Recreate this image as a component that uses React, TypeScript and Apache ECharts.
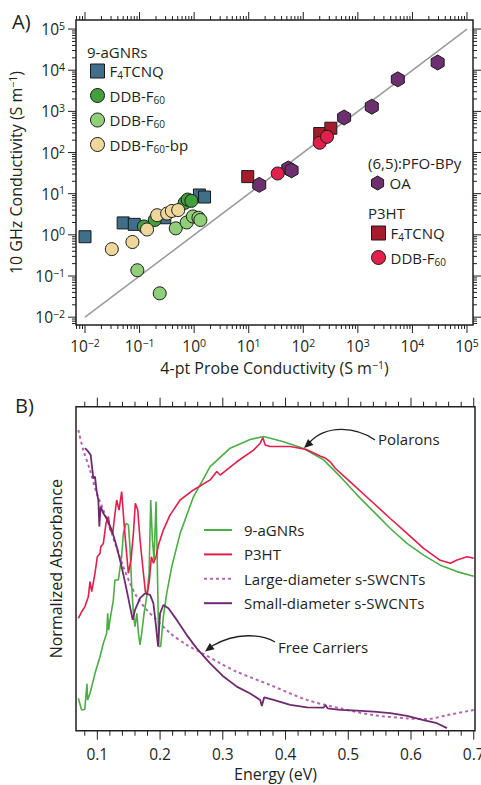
import React, { useEffect, useRef } from 'react';
import * as echarts from 'echarts';

// ---------- Panel A : 10 GHz vs 4-pt probe conductivity (S m^-1) ----------
const gnrF4tcnqProbe = [0.01, 0.05, 0.08, 0.29, 1.25, 1.55];
const gnrF4tcnqGHz = [0.9, 1.95, 1.8, 2.6, 9.3, 8.3];
const gnrDdbProbe = [0.12, 0.19, 0.67, 0.76, 0.89];
const gnrDdbGHz = [1.6, 2.3, 6.0, 7.2, 6.7];
const gnrDdb2Probe = [0.091, 0.234, 0.46, 0.73, 0.95, 1.2, 1.3];
const gnrDdb2GHz = [0.138, 0.038, 1.44, 2.0, 2.8, 2.6, 2.3];
const gnrBpProbe = [0.031, 0.074, 0.137, 0.21, 0.32, 0.39, 0.51];
const gnrBpGHz = [0.45, 0.67, 1.35, 3.0, 3.3, 3.8, 4.0];
const oaProbe = [15.6, 53, 61, 560, 1800, 5400, 29000];
const oaGHz = [16.4, 41, 37, 710, 1300, 6000, 15400];
const p3htF4Probe = [9.6, 200, 320];
const p3htF4GHz = [26, 290, 390];
const p3htDdbProbe = [34, 200, 272];
const p3htDdbGHz = [31, 173, 241];
const parityLine = [0.01, 100000];
const decadeExponents = [-2, -1, 0, 1, 2, 3, 4, 5];

// ---------- Panel B : normalized absorbance vs energy (eV) ----------
const energyTicks = [0.1, 0.2, 0.3, 0.4, 0.5, 0.6, 0.7];
const gnrE = [0.0697, 0.075, 0.080, 0.0835, 0.0845, 0.0883, 0.0963, 0.1043, 0.1096, 0.1149, 0.1165, 0.118, 0.1202, 0.1255, 0.128, 0.1335, 0.1388, 0.1415, 0.1457, 0.1495, 0.152, 0.1548, 0.1575, 0.160, 0.163, 0.1655, 0.168, 0.1708, 0.1745, 0.1787, 0.1825, 0.1851, 0.1878, 0.1904, 0.1936, 0.1957, 0.1979, 0.201, 0.2053, 0.2106, 0.2186, 0.232, 0.2532, 0.2798, 0.3117, 0.3436, 0.365, 0.3969, 0.4288, 0.4607, 0.4873, 0.5139, 0.5404, 0.567, 0.5936, 0.62, 0.6467, 0.6733, 0.70];
const gnrV = [10.0, 6.4, 6.6, 14.5, 9.5, 11.5, 17.7, 22.9, 27, 30.1, 36.2, 31, 34.2, 40.3, 46.5, 46.5, 53.7, 60.9, 64, 63.5, 56.8, 44.5, 36.2, 32.1, 36.2, 30.1, 26.5, 30.1, 36.2, 41.4, 48.6, 71.2, 58.9, 52.7, 70.7, 50.6, 26, 26, 35.2, 42.4, 50.6, 60.9, 72.2, 81.5, 87.2, 89.9, 90.8, 89.2, 87.1, 83.6, 78.4, 72.8, 67.6, 62.4, 57.8, 54.2, 51.1, 49.1, 47.7];
const p3htE = [0.0697, 0.075, 0.0803, 0.0857, 0.0883, 0.091, 0.0963, 0.1, 0.1043, 0.1055, 0.1096, 0.1138, 0.1176, 0.1202, 0.1245, 0.1282, 0.1309, 0.1346, 0.1388, 0.1426, 0.1457, 0.1495, 0.1537, 0.1575, 0.1606, 0.1644, 0.1681, 0.1724, 0.1766, 0.1798, 0.183, 0.1862, 0.1894, 0.1936, 0.1974, 0.2053, 0.216, 0.232, 0.2532, 0.2798, 0.2904, 0.2957, 0.3223, 0.349, 0.3596, 0.3638, 0.3676, 0.3756, 0.4074, 0.433, 0.455, 0.463, 0.4712, 0.4792, 0.5031, 0.5404, 0.567, 0.5936, 0.62, 0.6467, 0.6627, 0.6733, 0.6893, 0.70];
const p3htV = [34.7, 36.7, 38.3, 41.4, 46, 42.9, 48.6, 53.7, 54.7, 56.8, 57.8, 64, 66.1, 62, 60.9, 67.1, 71.2, 68.1, 73.8, 64, 56.8, 48.6, 52.7, 60.9, 70.2, 68.1, 58.9, 50.6, 42.9, 42.4, 46.5, 53.7, 51.7, 53.7, 57.3, 62, 66.6, 71.2, 74.3, 77.4, 80, 78.9, 83, 86.6, 88.7, 90.5, 88.2, 87.7, 87.7, 86.8, 84.8, 84.2, 83.0, 81.0, 76.8, 70.2, 65.5, 60.9, 56.3, 52.6, 51.7, 52.7, 53.7, 53.2];
const largeE = [0.0697, 0.0777, 0.0883, 0.099, 0.1096, 0.1202, 0.1309, 0.1415, 0.1521, 0.1628, 0.1787, 0.1947, 0.216, 0.2426, 0.2692, 0.2958, 0.3223, 0.3755, 0.4341, 0.4873, 0.5404, 0.5936, 0.6255, 0.6573, 0.70];
const largeV = [92.8, 86.6, 80.5, 73.3, 68.1, 62.5, 56.3, 50.6, 45.5, 41.4, 37.3, 34.2, 30.1, 26.5, 23.7, 20.8, 18.2, 14.1, 9.5, 6.9, 4.8, 3.8, 3.6, 4.8, 6.4];
const smallE = [0.0803, 0.0857, 0.0894, 0.0915, 0.0936, 0.0963, 0.099, 0.1016, 0.1032, 0.1053, 0.1096, 0.1149, 0.1229, 0.1309, 0.1388, 0.1468, 0.1521, 0.1564, 0.1601, 0.1681, 0.1761, 0.1841, 0.1894, 0.1936, 0.1968, 0.2, 0.2053, 0.2133, 0.2266, 0.2426, 0.2585, 0.2798, 0.3011, 0.3223, 0.3436, 0.3596, 0.3622, 0.366, 0.3809, 0.4075, 0.4341, 0.4607, 0.4639, 0.467, 0.4873, 0.5139, 0.5404, 0.567, 0.5936, 0.62, 0.6414, 0.6573];
const smallV = [87.2, 86.1, 85.1, 81.5, 77.9, 78.4, 73.8, 71.2, 63, 69.2, 67.1, 65.5, 62, 56.8, 50.6, 43.4, 38.3, 34.2, 37.3, 40.9, 42.4, 41.9, 39.3, 32.1, 26, 36.2, 38.8, 37.8, 34.2, 29.5, 25.4, 20.8, 16.7, 13.6, 11.5, 9.5, 7.6, 10.3, 9.5, 8, 7.2, 7.1, 7.9, 6.9, 6.4, 6.2, 5.9, 5.4, 4.6, 3.3, 2.3, 0.8];

const FONT = "'Open Sans', 'Noto Sans', sans-serif";
const INK = '#231f20';
const EDGE = '#1a1a1a';

const AX_MIN = Math.pow(10, -2.165);
const AX_MAX = Math.pow(10, 5.11);
const AY_MIN = Math.pow(10, -2.19);
const AY_MAX = Math.pow(10, 5.22);
const BX_MIN = 0.066;
const BX_MAX = 0.702;

const HEX = 'path://M0,-1L0.866,-0.5L0.866,0.5L0,1L-0.866,0.5L-0.866,-0.5Z';

const zip = (xs: number[], ys: number[]) => xs.map((x, i) => [x, ys[i]]);

const supNum = (e: number) => (e < 0 ? '\u2212' + -e : String(e));

const powLabel = (v: number) => {
  const l = Math.log10(v);
  const e = Math.round(l);
  if (Math.abs(l - e) > 1e-6 || decadeExponents.indexOf(e) < 0) return '';
  return `{b|10}{p|${supNum(e)}}`;
};

const energyLabel = (v: number) => {
  const hit = energyTicks.find((t) => Math.abs(t - v) < 1e-6);
  return hit === undefined ? '' : hit.toFixed(1);
};

// tick marks (axis decoration) for log axes
const logTickValues = (min: number, max: number) => {
  const out: number[][] = [];
  for (let e = -3; e <= 6; e++) {
    for (let k = 1; k <= 9; k++) {
      const v = k * Math.pow(10, e);
      if (v > min * 1.0001 && v < max / 1.0001) out.push([v, k === 1 ? 1 : 0]);
    }
  }
  return out;
};
const aTickData = [
  ...logTickValues(AX_MIN, AX_MAX).map(([v, m]) => [v, AY_MIN, 0, m]),
  ...logTickValues(AY_MIN, AY_MAX).map(([v, m]) => [AX_MIN, v, 1, m]),
];
const bTickData: number[][] = [];
for (let i = 4; i <= 35; i++) bTickData.push([i / 50, 0, 0, i % 5 === 0 ? 1 : 0]);

const makeTickRenderer = (lenMajor: number, lenMinor: number) => (params: any, api: any) => {
  const cs = params.coordSys;
  const kind = api.value(2);
  const len = api.value(3) === 1 ? lenMajor : lenMinor;
  const p = api.coord([api.value(0), api.value(1)]);
  const st = { stroke: INK, lineWidth: 1 };
  if (kind === 0) {
    const x = p[0];
    const yb = cs.y + cs.height;
    return {
      type: 'group',
      children: [
        { type: 'line', shape: { x1: x, y1: yb, x2: x, y2: yb + len }, style: st },
        { type: 'line', shape: { x1: x, y1: cs.y, x2: x, y2: cs.y - len }, style: st },
      ],
    };
  }
  const y = p[1];
  const xr = cs.x + cs.width;
  return {
    type: 'group',
    children: [
      { type: 'line', shape: { x1: cs.x, y1: y, x2: cs.x - len, y2: y }, style: st },
      { type: 'line', shape: { x1: xr, y1: y, x2: xr + len, y2: y }, style: st },
    ],
  };
};

const richBase = {
  b: { fontSize: 15.5, lineHeight: 18, fontFamily: FONT, color: INK },
  t: { fontSize: 16, lineHeight: 18, fontFamily: FONT, color: INK },
  n: { fontSize: 15, lineHeight: 18, fontFamily: FONT, color: INK },
  p: { fontSize: 10.5, lineHeight: 10, verticalAlign: 'top', fontFamily: FONT, color: INK },
  s: { fontSize: 10, lineHeight: 10, verticalAlign: 'bottom', fontFamily: FONT, color: INK },
};

const legendNames: Record<string, string> = {
  '9-aGNRs F4TCNQ': '{n|F}{s|4}{n|TCNQ}',
  '9-aGNRs DDB-F60': '{n|DDB-F}{s|60}',
  '9-aGNRs DDB-F60 (2)': '{n|DDB-F}{s|60}',
  '9-aGNRs DDB-F60-bp': '{n|DDB-F}{s|60}{n|-bp}',
  '(6,5):PFO-BPy OA': '{n|OA}',
  'P3HT F4TCNQ': '{n|F}{s|4}{n|TCNQ}',
  'P3HT DDB-F60': '{n|DDB-F}{s|60}',
};

const legendA = (names: string[], left: number, top: number) => ({
  orient: 'vertical',
  left,
  top,
  padding: 0,
  itemGap: 6.5,
  itemWidth: 14,
  itemHeight: 14,
  selectedMode: false,
  data: names,
  formatter: (n: string) => legendNames[n] || n,
  itemStyle: { borderColor: EDGE, borderWidth: 1 },
  textStyle: { fontFamily: FONT, fontSize: 15, lineHeight: 18, color: INK, rich: richBase },
});

const scatter = (name: string, xs: number[], ys: number[], color: string, symbol: string, size: any, z: number, extra: any = {}) => ({
  name,
  type: 'scatter',
  xAxisIndex: 0,
  yAxisIndex: 0,
  data: zip(xs, ys),
  symbol,
  symbolSize: size,
  z,
  itemStyle: { color, borderColor: EDGE, borderWidth: 1, opacity: 1 },
  ...extra,
});

const arrowHead = (tip: number[], dir: number[], len: number, half: number) => {
  const n = Math.hypot(dir[0], dir[1]);
  const d = [dir[0] / n, dir[1] / n];
  const bc = [tip[0] - d[0] * len, tip[1] - d[1] * len];
  const pp = [-d[1] * half, d[0] * half];
  return [tip, [bc[0] + pp[0], bc[1] + pp[1]], [bc[0] - pp[0], bc[1] - pp[1]]];
};

const textEl = (text: string, x: number, y: number, size = 15, extra: any = {}) => ({
  type: 'text',
  x,
  y,
  style: { text, fontFamily: FONT, fontSize: size, fill: INK, textAlign: 'left', textVerticalAlign: 'middle', ...extra },
});

const option: any = {
  animation: false,
  backgroundColor: '#ffffff',
  textStyle: { fontFamily: FONT },
  grid: [
    { left: 76, top: 20, width: 397, height: 305, show: true, borderColor: INK, borderWidth: 1.5, backgroundColor: 'transparent', containLabel: false, outerBoundsMode: 'none' },
    { left: 76, top: 406.7, width: 399, height: 324, show: true, borderColor: INK, borderWidth: 1.5, backgroundColor: 'transparent', containLabel: false, outerBoundsMode: 'none' },
  ],
  xAxis: [
    {
      gridIndex: 0,
      type: 'log',
      logBase: 10,
      min: AX_MIN,
      max: AX_MAX,
      axisLine: { show: false },
      axisTick: { show: false },
      splitLine: { show: false },
      axisLabel: { margin: 12, formatter: powLabel, rich: richBase, color: INK },
      name: '{t|4-pt Probe Conductivity (S m}{p|\u22121}{t|)}',
      nameLocation: 'middle',
      nameGap: 34,
      nameTextStyle: { rich: richBase, color: INK, fontSize: 16, fontFamily: FONT },
    },
    {
      gridIndex: 1,
      type: 'value',
      min: BX_MIN,
      max: BX_MAX,
      axisLine: { show: false },
      axisTick: { show: false },
      splitLine: { show: false },
      axisLabel: { margin: 15, formatter: energyLabel, color: INK, fontSize: 15.5, fontFamily: FONT },
      name: 'Energy (eV)',
      nameLocation: 'middle',
      nameGap: 35,
      nameTextStyle: { color: INK, fontSize: 16, fontFamily: FONT },
    },
  ],
  yAxis: [
    {
      gridIndex: 0,
      type: 'log',
      logBase: 10,
      min: AY_MIN,
      max: AY_MAX,
      axisLine: { show: false },
      axisTick: { show: false },
      splitLine: { show: false },
      axisLabel: { margin: 11, formatter: powLabel, rich: richBase, color: INK },
      name: '{t|10 GHz Conductivity (S m}{p|\u22121}{t|)}',
      nameLocation: 'middle',
      nameGap: 44,
      nameTextStyle: { rich: richBase, color: INK, fontSize: 16, fontFamily: FONT },
    },
    {
      gridIndex: 1,
      type: 'value',
      min: 0,
      max: 100,
      axisLine: { show: false },
      axisTick: { show: false },
      axisLabel: { show: false },
      splitLine: { show: false },
      name: 'Normalized Absorbance',
      nameLocation: 'middle',
      nameGap: 12,
      nameTextStyle: { color: INK, fontSize: 16, fontFamily: FONT },
    },
  ],
  legend: [
    legendA(['9-aGNRs F4TCNQ', '9-aGNRs DDB-F60', '9-aGNRs DDB-F60 (2)', '9-aGNRs DDB-F60-bp'], 90, 62),
    legendA(['(6,5):PFO-BPy OA'], 371, 174),
    legendA(['P3HT F4TCNQ', 'P3HT DDB-F60'], 371, 224),
    {
      orient: 'vertical',
      left: 203,
      top: 521,
      padding: 0,
      itemGap: 6.4,
      itemWidth: 28,
      itemHeight: 14,
      selectedMode: false,
      data: ['9-aGNRs', 'P3HT', 'Large-diameter s-SWCNTs', 'Small-diameter s-SWCNTs'],
      itemStyle: { color: 'rgba(0,0,0,0)', borderWidth: 0, opacity: 0 },
      textStyle: { fontFamily: FONT, fontSize: 15, lineHeight: 18, color: INK, padding: [0, 0, 0, 7] },
    },
  ],
  series: [
    {
      name: 'parity',
      type: 'line',
      xAxisIndex: 0,
      yAxisIndex: 0,
      data: zip(parityLine, parityLine),
      symbol: 'none',
      lineStyle: { color: '#9a9a9a', width: 1.5 },
      z: 1,
      silent: true,
    },
    scatter('9-aGNRs F4TCNQ', gnrF4tcnqProbe, gnrF4tcnqGHz, '#3f6f8a', 'rect', 12, 3),
    scatter('9-aGNRs DDB-F60', gnrDdbProbe, gnrDdbGHz, '#42a03c', 'circle', 13, 4),
    scatter('9-aGNRs DDB-F60 (2)', gnrDdb2Probe, gnrDdb2GHz, '#8fcf78', 'circle', 13, 5),
    scatter('9-aGNRs DDB-F60-bp', gnrBpProbe, gnrBpGHz, '#efd79c', 'circle', 13, 6),
    scatter('(6,5):PFO-BPy OA', oaProbe, oaGHz, '#6d2f6e', HEX, 15, 3, { symbolKeepAspect: true }),
    scatter('P3HT F4TCNQ', p3htF4Probe, p3htF4GHz, '#a51d2d', 'rect', 12, 4),
    scatter('P3HT DDB-F60', p3htDdbProbe, p3htDdbGHz, '#e3204b', 'circle', 13, 5),
    {
      type: 'custom',
      xAxisIndex: 0,
      yAxisIndex: 0,
      data: aTickData,
      renderItem: makeTickRenderer(8, 4),
      clip: false,
      silent: true,
      z: 10,
    },
    {
      name: '9-aGNRs',
      type: 'line',
      xAxisIndex: 1,
      yAxisIndex: 1,
      data: zip(gnrE, gnrV),
      symbol: 'none',
      lineStyle: { color: '#4aae45', width: 1.6 },
      itemStyle: { color: '#4aae45' },
      z: 3,
    },
    {
      name: 'P3HT',
      type: 'line',
      xAxisIndex: 1,
      yAxisIndex: 1,
      data: zip(p3htE, p3htV),
      symbol: 'none',
      lineStyle: { color: '#e31e4b', width: 1.6 },
      itemStyle: { color: '#e31e4b' },
      z: 4,
    },
    {
      name: 'Large-diameter s-SWCNTs',
      type: 'line',
      xAxisIndex: 1,
      yAxisIndex: 1,
      data: zip(largeE, largeV),
      symbol: 'none',
      smooth: 0.3,
      lineStyle: { color: '#b465ae', width: 2, type: [3, 3] },
      itemStyle: { color: '#b465ae' },
      z: 2,
    },
    {
      name: 'Small-diameter s-SWCNTs',
      type: 'line',
      xAxisIndex: 1,
      yAxisIndex: 1,
      data: zip(smallE, smallV),
      symbol: 'none',
      lineStyle: { color: '#6e2a6e', width: 1.8 },
      itemStyle: { color: '#6e2a6e' },
      z: 5,
    },
    {
      type: 'custom',
      xAxisIndex: 1,
      yAxisIndex: 1,
      data: bTickData,
      renderItem: makeTickRenderer(9, 5),
      clip: false,
      silent: true,
      z: 10,
    },
  ],
  graphic: [
    textEl('A)', 12, 21, 20),
    textEl('B)', 15, 405, 20),
    textEl('9-aGNRs', 87, 52),
    textEl('(6,5):PFO-BPy', 368, 163),
    textEl('P3HT', 368, 213),
    textEl('Polarons', 378, 439),
    textEl('Free Carriers', 278, 647),
    {
      type: 'bezierCurve',
      shape: { x1: 375, y1: 440, cpx1: 355, cpy1: 426, cpx2: 326, cpy2: 425, x2: 310, y2: 442 },
      style: { stroke: INK, lineWidth: 1.3, fill: null },
    },
    {
      type: 'polygon',
      shape: { points: arrowHead([304, 448], [-9, 8], 9, 4) },
      style: { fill: INK },
    },
    {
      type: 'bezierCurve',
      shape: { x1: 275, y1: 642, cpx1: 262, cpy1: 634, cpx2: 236, cpy2: 632, x2: 212, y2: 646 },
      style: { stroke: INK, lineWidth: 1.3, fill: null },
    },
    {
      type: 'polygon',
      shape: { points: arrowHead([205, 651.5], [-10, 7.5], 9, 4) },
      style: { fill: INK },
    },
  ],
};

export default function App() {
  const ref = useRef<HTMLDivElement>(null);
  useEffect(() => {
    if (!ref.current) return;
    const chart = echarts.init(ref.current, null, { renderer: 'svg' });
    chart.setOption(option);
    return () => chart.dispose();
  }, []);
  return (
    <div
      ref={ref}
      style={{ position: 'fixed', left: 0, top: 0, width: 481, height: 785, background: '#ffffff' }}
    />
  );
}
